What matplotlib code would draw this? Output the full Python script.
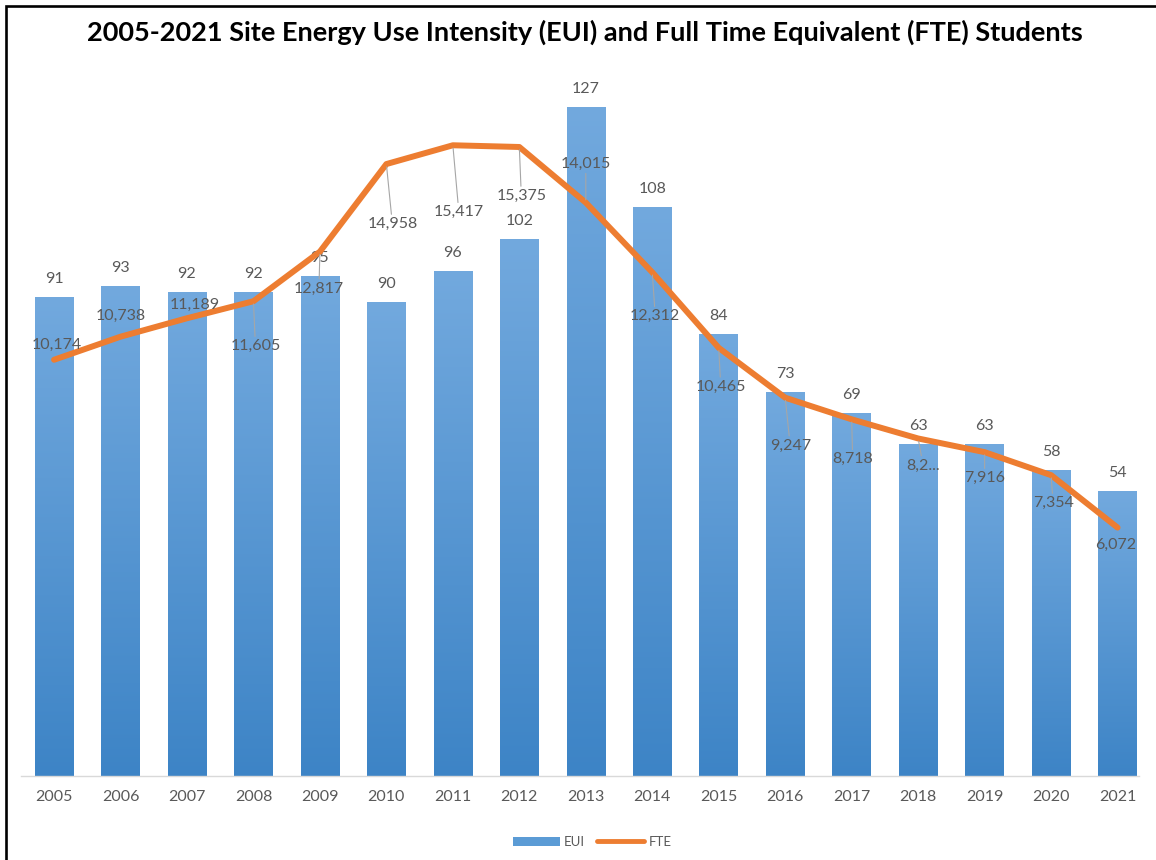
import matplotlib
matplotlib.use("Agg")
import matplotlib.pyplot as plt
import numpy as np
from matplotlib.colors import LinearSegmentedColormap
from matplotlib.patches import Patch, Rectangle
from matplotlib.lines import Line2D

# ---------------- data ----------------
years = ["2005", "2006", "2007", "2008", "2009", "2010", "2011", "2012", "2013",
         "2014", "2015", "2016", "2017", "2018", "2019", "2020", "2021"]
eui = [91, 93, 92, 92, 95, 90, 96, 102, 127, 108, 84, 73, 69, 63, 63, 58, 54]
fte = [10174, 10738, 11189, 11605, 12817, 14958, 15417, 15375, 14015,
       12312, 10465, 9247, 8718, 8250, 7916, 7354, 6072]
fte_labels = ["10,174", "10,738", "11,189", "11,605", "12,817", "14,958", "15,417",
              "15,375", "14,015", "12,312", "10,465", "9,247", "8,718", "8,2...",
              "7,916", "7,354", "6,072"]
title = "2005-2021 Site Energy Use Intensity (EUI) and Full Time Equivalent (FTE) Students"

# label offsets (pixels) for the FTE data labels - styling only
fte_dx = [3, 0, 8, 2, -1, 6, 6, 2, 0, 3, 2, 5, 1, 5, 0, 2, -2]
fte_dy = [15, 21, 13, -45, -37, -60, -67, -49, 39, -44, -39, -48, -40, -27, -26, -28, -17]

# ---------------- style ----------------
FONT = "Lato"
TXT = "#595959"
BAR_TOP = "#72a9de"
BAR_BOT = "#3d84c6"
LINE = "#ed7d31"

W, H = 1156, 860
fig = plt.figure(figsize=(W / 100, H / 100), dpi=100)
plt.rcParams["font.family"] = [FONT, "DejaVu Sans"]

x0, x1 = 20.8, 1150.8
yb, yt = 776, 39.6
ax = fig.add_axes([x0 / W, (H - yb) / H, (x1 - x0) / W, (yb - yt) / H])

x = np.arange(len(years))
bars = ax.bar(x, eui, width=0.58, color="none", edgecolor="none", zorder=2)

cmap = LinearSegmentedColormap.from_list("g", [BAR_BOT, BAR_TOP])
grad = np.linspace(0, 1, 256).reshape(-1, 1)
for b in bars:
    bx, bw, bh = b.get_x(), b.get_width(), b.get_height()
    ax.imshow(grad, extent=(bx, bx + bw, 0, bh), origin="lower", aspect="auto",
              cmap=cmap, zorder=2, interpolation="bicubic")

for b, v in zip(bars, eui):
    ax.annotate(str(v), (b.get_x() + b.get_width() / 2, b.get_height()),
                xytext=(0, 18.5), textcoords="offset pixels", ha="center", va="center",
                fontsize=11.5, color=TXT, fontfamily=FONT, zorder=5)

ax.set_xlim(-0.5, len(years) - 0.5)
ax.set_ylim(0, 140)
ax.set_xticks(x)
ax.set_xticklabels(years, fontsize=11.5, color=TXT, fontfamily=FONT)
ax.tick_params(axis="x", length=0, pad=10)
ax.set_yticks([])
for s in ["top", "left", "right"]:
    ax.spines[s].set_visible(False)
ax.spines["bottom"].set_color("#d9d9d9")
ax.spines["bottom"].set_linewidth(1.0)
ax.spines["bottom"].set_bounds(-0.5, 16.33)

ax2 = ax.twinx()
ax2.set_ylim(0, 18000)
ax2.set_yticks([])
for s in ax2.spines.values():
    s.set_visible(False)
ax2.plot(x, fte, color=LINE, lw=4.3, solid_joinstyle="round",
         solid_capstyle="round", zorder=3)

for xi, v, lab, dx, dy in zip(x, fte, fte_labels, fte_dx, fte_dy):
    use_leader = abs(dy) >= 25
    ap = dict(arrowstyle="-", color="#a6a6a6", lw=0.8, shrinkA=0, shrinkB=2) if use_leader else None
    ax2.annotate(lab, (xi, v), xytext=(dx, dy), textcoords="offset pixels",
                 ha="center", va="center", fontsize=11.5, color=TXT, fontfamily=FONT,
                 arrowprops=ap, zorder=6)

fig.text(585 / W, 1 - 32 / H, title, ha="center", va="center",
         fontsize=19.5, fontweight="bold", color="black", fontfamily=FONT)

handles = [Patch(facecolor="#5b9bd5", edgecolor="none"),
           Line2D([0], [0], color=LINE, lw=3.5, solid_capstyle="round")]
leg = fig.legend(handles, ["EUI", "FTE"], loc="center", ncol=2,
                 bbox_to_anchor=(592 / W, 1 - 842 / H), frameon=False,
                 prop={"family": FONT, "size": 9.5}, handlelength=3.6,
                 handleheight=0.65, handletextpad=0.3, columnspacing=0.9)
for t in leg.get_texts():
    t.set_color(TXT)

# outer border
fig.patches.append(Rectangle((6 / W, -0.1), 2.0, 1.1 - 6 / H, transform=fig.transFigure,
                             fill=False, edgecolor="black", lw=1.9, zorder=10))

fig.savefig("out.png", dpi=100)
